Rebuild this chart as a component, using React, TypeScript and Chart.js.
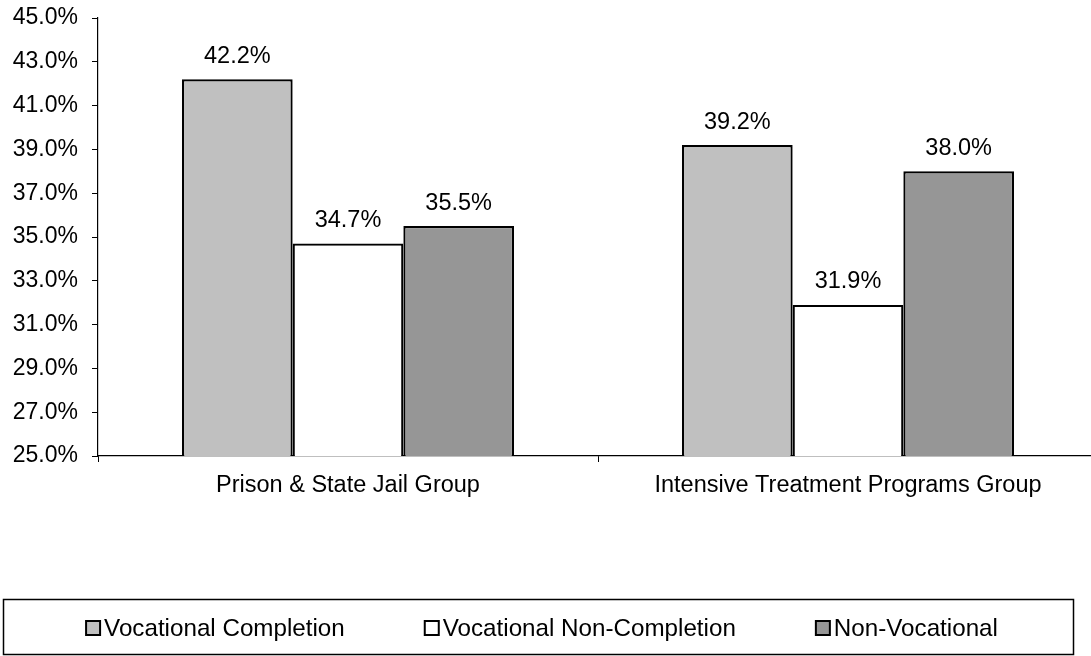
import React, { useEffect, useRef } from "react";
import { Chart, registerables } from "chart.js";

Chart.register(...registerables);

const categories = ["Prison & State Jail Group", "Intensive Treatment Programs Group"];
const seriesNames = ["Vocational Completion", "Vocational Non-Completion", "Non-Vocational"];
const vocationalCompletion = [42.2, 39.2];
const vocationalNonCompletion = [34.7, 31.9];
const nonVocational = [35.5, 38.0];
const seriesColors = ["#C0C0C0", "#FFFFFF", "#969696"];
const yMin = 25;
const yMax = 45;
const yStep = 2;

const FONT = "'Liberation Sans', Arial, sans-serif";

const dataLabelPlugin = {
  id: "dataLabels",
  afterDatasetsDraw(chart: any) {
    const ctx = chart.ctx;
    ctx.save();
    ctx.font = `23.5px ${FONT}`;
    ctx.fillStyle = "#000";
    ctx.textAlign = "center";
    ctx.textBaseline = "middle";
    chart.data.datasets.forEach((ds: any, i: number) => {
      const meta = chart.getDatasetMeta(i);
      meta.data.forEach((el: any, j: number) => {
        ctx.fillText(Number(ds.data[j]).toFixed(1) + "%", el.x, el.y - 23);
      });
    });
    ctx.restore();
  },
};

const boxLegendPlugin = {
  id: "boxLegend",
  afterDraw(chart: any) {
    const ctx = chart.ctx;
    ctx.save();
    ctx.strokeStyle = "#000";
    ctx.lineWidth = 1.5;
    ctx.strokeRect(3.5, 599.5, 1070, 55);
    ctx.font = `24.2px ${FONT}`;
    ctx.textBaseline = "middle";
    ctx.textAlign = "left";
    const sw = 14;
    const gapText = 4;
    const gapItems = 80;
    const ds = chart.data.datasets;
    const widths = ds.map((d: any) => sw + gapText + ctx.measureText(d.label).width);
    const total = widths.reduce((a: number, b: number) => a + b, 0) + gapItems * (ds.length - 1);
    let x = 542 - total / 2;
    const cy = 628;
    ds.forEach((d: any, i: number) => {
      ctx.fillStyle = d.backgroundColor;
      ctx.fillRect(x, cy - sw / 2, sw, sw);
      ctx.lineWidth = 2;
      ctx.strokeStyle = "#000";
      ctx.strokeRect(x, cy - sw / 2, sw, sw);
      ctx.fillStyle = "#000";
      ctx.fillText(d.label, x + sw + gapText, cy + 1);
      x += widths[i] + gapItems;
    });
    ctx.restore();
  },
};

export default function App() {
  const ref = useRef<HTMLCanvasElement>(null);
  useEffect(() => {
    if (!ref.current) return;
    const chart = new Chart(ref.current, {
      type: "bar",
      data: {
        labels: categories,
        datasets: [
          { label: seriesNames[0], data: vocationalCompletion, backgroundColor: seriesColors[0] },
          { label: seriesNames[1], data: vocationalNonCompletion, backgroundColor: seriesColors[1] },
          { label: seriesNames[2], data: nonVocational, backgroundColor: seriesColors[2] },
        ].map((d) => ({
          ...d,
          borderColor: "#000",
          borderWidth: 2.2,
          borderSkipped: false,
          categoryPercentage: 0.664,
          barPercentage: 1,
        })),
      },
      options: {
        responsive: false,
        animation: false,
        layout: { padding: { top: 18, left: 0, right: 12, bottom: 150 } },
        plugins: { legend: { display: false }, tooltip: { enabled: false } },
        scales: {
          x: {
            offset: true,
            grid: {
              offset: true,
              drawOnChartArea: false,
              drawTicks: true,
              tickLength: 6,
              tickColor: "#000",
              tickWidth: 1,
            },
            border: { color: "#000", width: 1.2 },
            ticks: { color: "#000", font: { family: FONT, size: 23.5 }, padding: 9 },
            afterFit: (s: any) => {
              s.height = 50;
              s.paddingLeft = 0;
              s.paddingRight = 0;
            },
          },
          y: {
            min: yMin,
            max: yMax,
            grid: {
              drawOnChartArea: false,
              drawTicks: true,
              tickLength: 6,
              tickColor: "#000",
              tickWidth: 1,
            },
            border: { color: "#000", width: 1.2 },
            ticks: {
              stepSize: yStep,
              color: "#000",
              font: { family: FONT, size: 23 },
              padding: 14,
              callback: (v: any) => Number(v).toFixed(1) + "%",
            },
            afterFit: (s: any) => {
              s.width = 98;
              s.paddingTop = 0;
              s.paddingBottom = 0;
            },
          },
        },
      },
      plugins: [dataLabelPlugin, boxLegendPlugin],
    } as any);
    return () => chart.destroy();
  }, []);
  return (
    <div
      style={{
        position: "fixed",
        left: 0,
        top: 0,
        width: 1091,
        height: 656,
        overflow: "hidden",
        background: "#fff",
      }}
    >
      <canvas ref={ref} width={1110} height={656} style={{ display: "block" }} />
    </div>
  );
}
